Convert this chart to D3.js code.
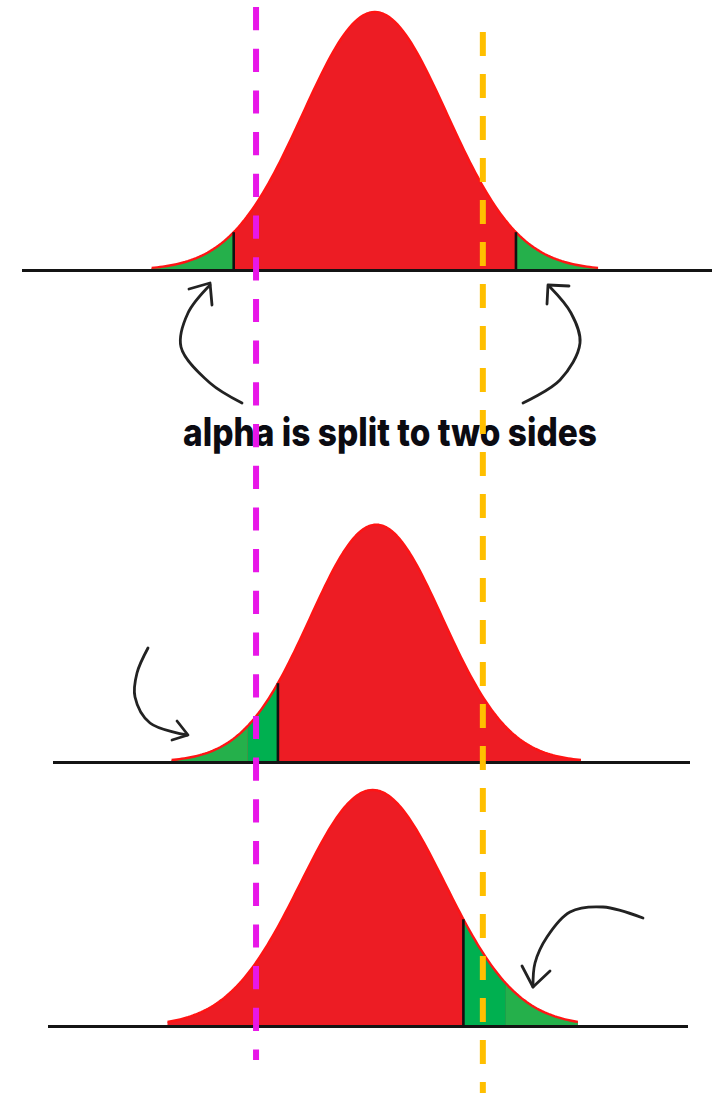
<!DOCTYPE html>
<html>
<head>
<meta charset="utf-8">
<script src="https://cdn.jsdelivr.net/npm/d3@7"></script>
<style>
  html, body { margin: 0; padding: 0; background: #ffffff; }
  svg { display: block; }
</style>
</head>
<body>
<svg id="chart" width="718" height="1093"></svg>
<script>
// ---- data -------------------------------------------------------------
// Three bell curves: two-tailed, left-tailed and right-tailed tests.
const panelNames   = ["two-tailed", "left-tailed", "right-tailed"];
// curve centre on the shared z axis, spread (sd) and relative peak height
const curveMean    = [-0.03, -0.01, -0.06];
const curveSd      = [1.0, 0.92, 1.0];
const curvePeak    = [1.0, 0.92, 0.915];
// how far (in sd) each curve is drawn either side of its centre
const curveExtent  = [3.1, 3.09, 2.85];
// critical boundaries (in sd from the mean), drawn as black lines
const criticalCuts = [[-1.96, 1.96], [-1.485], [1.26]];
// rejection regions [from, to, shade] in sd from the mean
const rejectRegions = [
  [[-Infinity, -1.96, "light"], [1.96, Infinity, "light"]],
  [[-Infinity, -1.94, "light"], [-1.94, -1.485, "dark"]],
  [[1.26, 1.85, "dark"], [1.85, Infinity, "light"]]
];
// reference lines on the shared z axis
const refLines     = [-1.68, 1.47];
const caption      = "alpha is split to two sides";

// ---- layout -----------------------------------------------------------
const svg = d3.select("#chart");
const W = 718, H = 1093;
const x = d3.scaleLinear().domain([-4, 4]).range([89, 665]);
const panelBase   = [270, 762, 1026];
const axisSpan    = [[22, 712], [53, 690], [48, 688]];
const peakPx      = 258;
const yScales = panelBase.map(b => d3.scaleLinear().domain([0, 1]).range([b, b - peakPx]));

const colors = {
  body: "#ED1C24",
  edge: "#FF1414",
  light: "#25B04B",
  dark: "#00B050",
  axis: "#141414",
  cut: "#111111",
  refLeft: "#E817E8",
  refRight: "#FFBF00",
  ink: "#222222"
};

function density(i, s) {
  return curvePeak[i] * Math.exp(-0.5 * s * s);
}
function samples(i, a, b) {
  const lo = Math.max(a, -curveExtent[i]);
  const hi = Math.min(b, curveExtent[i]);
  const n = 160;
  return d3.range(n + 1).map(k => {
    const s = lo + (hi - lo) * k / n;
    return { z: curveMean[i] + s * curveSd[i], d: density(i, s) };
  });
}

panelNames.forEach((name, i) => {
  const y = yScales[i];
  const g = svg.append("g").attr("class", "panel " + name);
  const area = d3.area().x(p => x(p.z)).y0(y(0) - 1).y1(p => y(p.d));
  const line = d3.line().x(p => x(p.z)).y(p => y(p.d));

  // red body of the distribution
  g.append("path")
    .attr("d", area(samples(i, -Infinity, Infinity)))
    .attr("fill", colors.body);

  // shaded rejection regions
  rejectRegions[i].forEach(([a, b, shade]) => {
    g.append("path")
      .attr("d", area(samples(i, a, b)))
      .attr("fill", shade === "dark" ? colors.dark : colors.light);
  });

  // curve outline
  g.append("path")
    .attr("d", line(samples(i, -Infinity, Infinity)))
    .attr("fill", "none")
    .attr("stroke", colors.edge)
    .attr("stroke-width", 2.4)
    .attr("stroke-linejoin", "round");

  // critical boundaries
  criticalCuts[i].forEach(s => {
    const zc = curveMean[i] + s * curveSd[i];
    g.append("line")
      .attr("x1", x(zc)).attr("x2", x(zc))
      .attr("y1", y(0)).attr("y2", y(density(i, s)))
      .attr("stroke", colors.cut)
      .attr("stroke-width", 2.6);
  });

  // horizontal axis
  g.append("line")
    .attr("x1", axisSpan[i][0]).attr("x2", axisSpan[i][1])
    .attr("y1", y(0) + 0.5).attr("y2", y(0) + 0.5)
    .attr("stroke", colors.axis)
    .attr("stroke-width", 3);
});

// ---- hand-drawn arrows ------------------------------------------------
const arrows = [
  { path: [[242, 403], [210, 383], [181, 347], [188, 313], [210, 285]],
    head: [[189, 289], [210, 283], [212, 305]] },
  { path: [[523, 403], [560, 380], [580, 343], [571, 313], [550, 287]],
    head: [[547, 304], [548, 285], [569, 286]] },
  { path: [[148, 648], [137, 673], [135, 697], [150, 723], [187, 735]],
    head: [[177, 721], [188, 735], [172, 740]] },
  { path: [[643, 918], [603, 907], [570, 912], [547, 937], [535, 963], [533, 987]],
    head: [[522, 966], [533, 987], [550, 971]] }
];
const curveLine = d3.line().curve(d3.curveCatmullRom.alpha(0.5));
const headLine = d3.line();
const ann = svg.append("g").attr("class", "annotations");
arrows.forEach(a => {
  ann.append("path").attr("d", curveLine(a.path))
    .attr("fill", "none").attr("stroke", colors.ink)
    .attr("stroke-width", 2.8).attr("stroke-linecap", "round");
  ann.append("path").attr("d", headLine(a.head))
    .attr("fill", "none").attr("stroke", colors.ink)
    .attr("stroke-width", 2.8).attr("stroke-linecap", "round")
    .attr("stroke-linejoin", "round");
});

ann.append("text")
  .attr("x", 390).attr("y", 446)
  .attr("text-anchor", "middle")
  .attr("font-family", "Inter, 'Open Sans', sans-serif")
  .attr("font-weight", 800)
  .attr("font-size", 39)
  .attr("textLength", 414)
  .attr("lengthAdjust", "spacingAndGlyphs")
  .attr("fill", "#0b0b12")
  .text(caption);

// ---- dashed reference lines --------------------------------------------
const refSpan = [[7, 1060], [32, 1093]];
const refColor = [colors.refLeft, colors.refRight];
refLines.forEach((z, k) => {
  svg.append("line")
    .attr("x1", x(z)).attr("x2", x(z))
    .attr("y1", refSpan[k][0]).attr("y2", refSpan[k][1])
    .attr("stroke", refColor[k])
    .attr("stroke-width", 6)
    .attr("stroke-dasharray", k === 0 ? "23.2,18.5" : "24,18");
});
</script>
</body>
</html>
